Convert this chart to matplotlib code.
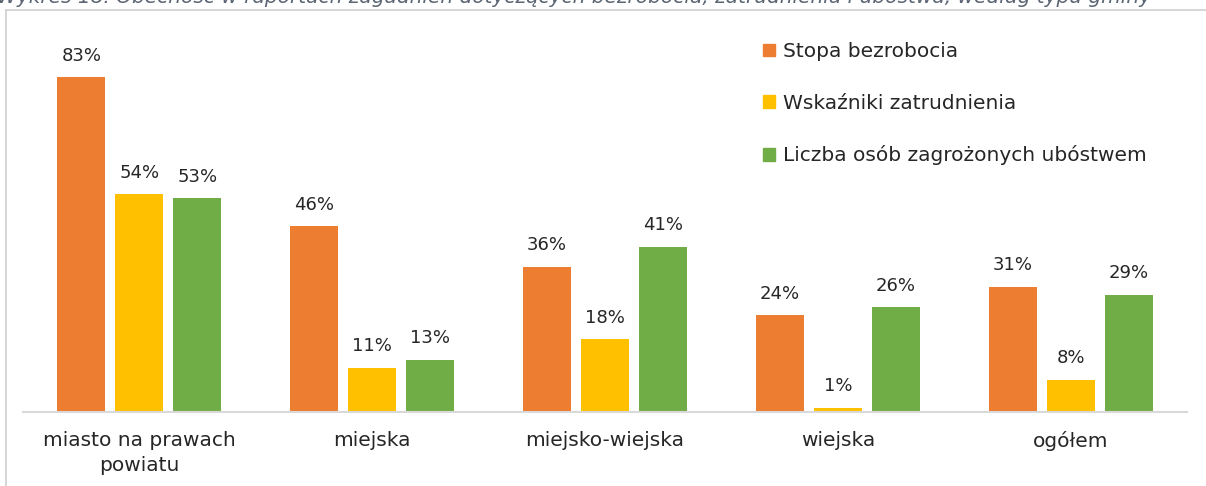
import numpy as np
import matplotlib
matplotlib.use("Agg")
import matplotlib.pyplot as plt
from matplotlib.patches import Patch
from matplotlib.lines import Line2D

categories = ["miasto na prawach\npowiatu", "miejska", "miejsko-wiejska", "wiejska", "ogółem"]
series_names = ["Stopa bezrobocia", "Wskaźniki zatrudnienia", "Liczba osób zagrożonych ubóstwem"]
stopa = [83, 46, 36, 24, 31]
wskazniki = [54, 11, 18, 1, 8]
liczba = [53, 13, 41, 26, 29]
colors = ["#ED7D31", "#FFC000", "#70AD47"]
title = "Wykres 18. Obecność w raportach zagadnień dotyczących bezrobocia, zatrudnienia i ubóstwa, według typu gminy"

plt.rcParams['font.family'] = ['DejaVu Sans']
W, H = 1206, 486
fig = plt.figure(figsize=(W / 100, H / 100), dpi=100)

# frame lines and clipped title
fig.add_artist(Line2D([6 / W, 1], [1 - 10 / H, 1 - 10 / H], color="#d0d0d0", lw=1.2))
fig.add_artist(Line2D([6 / W, 6 / W], [0, 1 - 10 / H], color="#d0d0d0", lw=1.2))
fig.text(-3 / W, 1 - 3 / H, title, fontsize=14.5, style="italic", color="#5b6573",
         ha="left", va="baseline")

left, right, bottom = 23, 1187, 412
ymax = 90
top = bottom - 4.036 * ymax
ax = fig.add_axes([left / W, 1 - bottom / H, (right - left) / W, (bottom - top) / H])

x = np.arange(len(categories))
bw = 48 / 232.8
gap = 10 / 232.8
data = [stopa, wskazniki, liczba]
for i, (vals, c) in enumerate(zip(data, colors)):
    pos = x + (i - 1) * (bw + gap)
    ax.bar(pos, vals, bw, color=c, zorder=2)
    for p, v in zip(pos, vals):
        ax.annotate(f"{v}%", (p, v), xytext=(0, 9), textcoords="offset points",
                    ha="center", va="bottom", fontsize=13, color="#262626")

ax.set_xlim(-0.5, len(categories) - 0.5)
ax.set_ylim(0, ymax)
for s in ["top", "right", "left"]:
    ax.spines[s].set_visible(False)
ax.spines["bottom"].set_color("#d9d9d9")
ax.spines["bottom"].set_linewidth(1.5)
ax.set_yticks([])
ax.set_xticks(x)
ax.set_xticklabels(categories, fontsize=14.5, color="#262626", linespacing=1.4)
ax.tick_params(axis="x", length=0, pad=14)

handles = [Patch(color=c) for c in colors]
fig.legend(handles, series_names, loc="upper left", bbox_to_anchor=(745 / W, 1 - 24 / H),
           frameon=False, fontsize=14.5, labelcolor="#262626",
           handlelength=0.6, handleheight=0.6, handletextpad=0.4, labelspacing=1.62)

fig.savefig("out.png", dpi=100)
